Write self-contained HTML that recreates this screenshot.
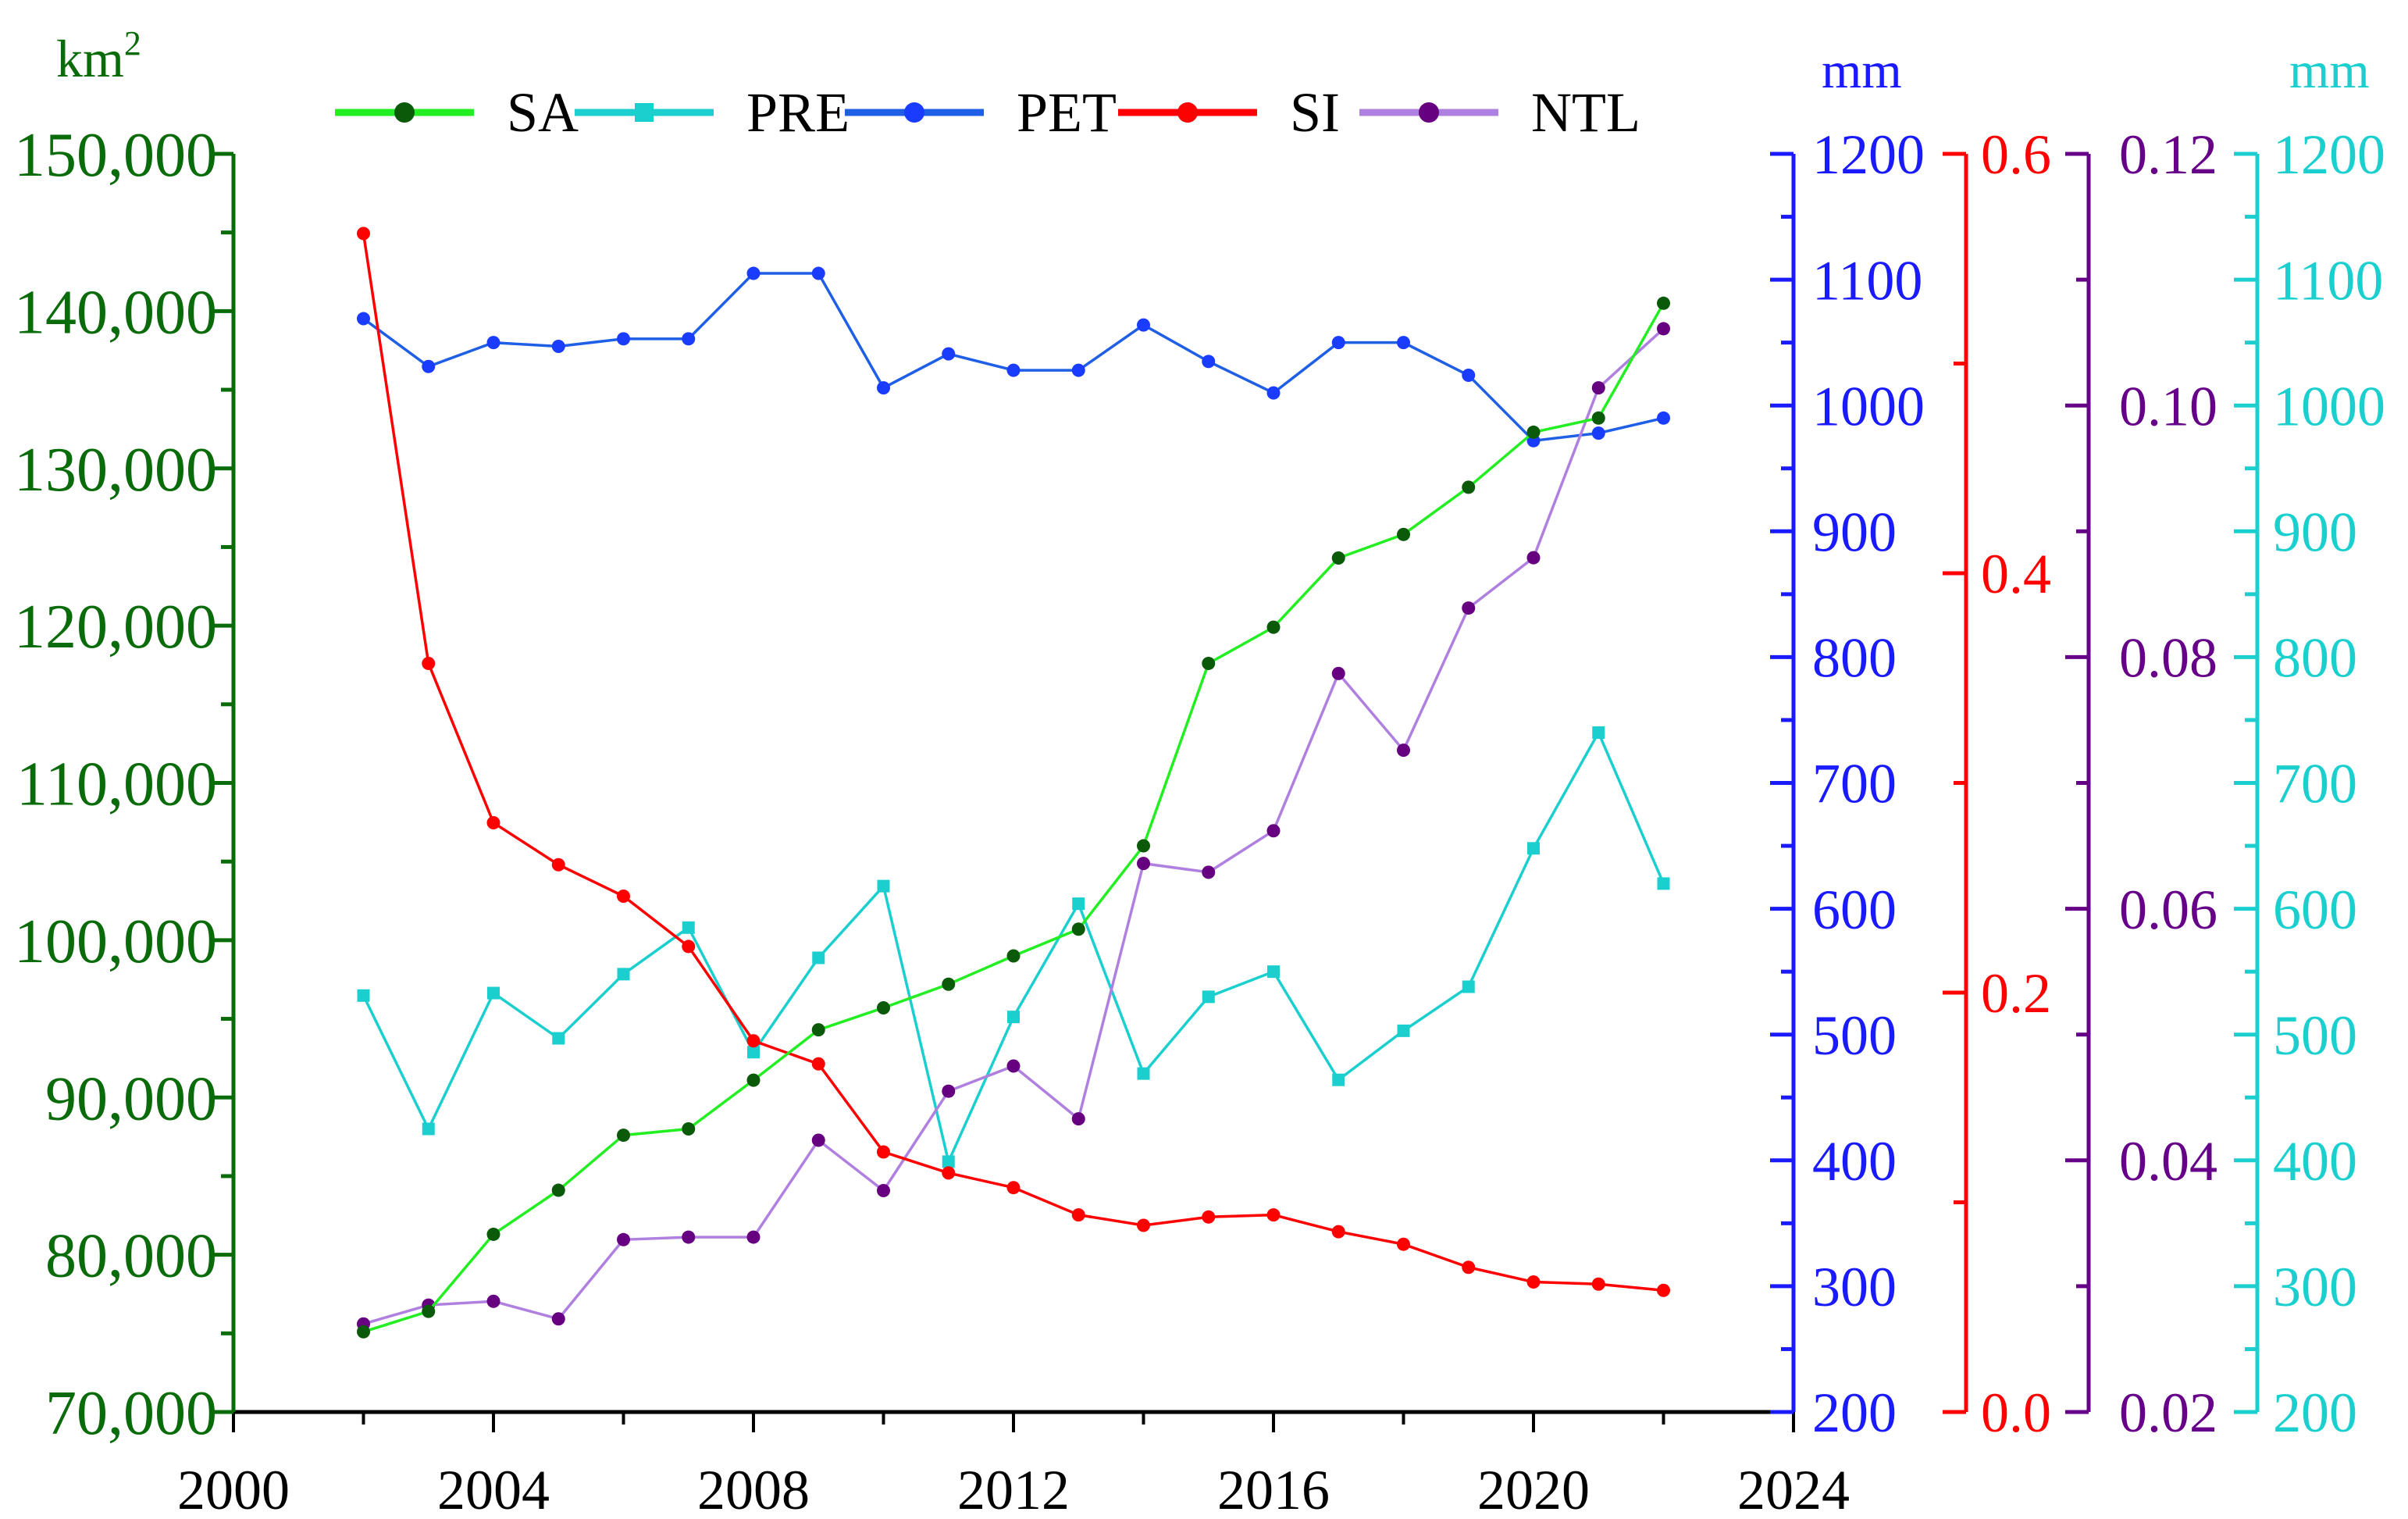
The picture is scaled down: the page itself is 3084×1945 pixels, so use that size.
<!DOCTYPE html>
<html><head><meta charset="utf-8"><style>
html,body{margin:0;padding:0;background:#fff;}
svg{display:block;font-family:"Liberation Serif",serif;}
</style></head><body>
<svg id="chart" width="3084" height="1945" viewBox="0 0 3084 1945" xmlns="http://www.w3.org/2000/svg">
<g id="axes"></g>
<g id="series"></g>
<g id="legend"></g>
</svg>
<script>
const years=[2002,2003,2004,2005,2006,2007,2008,2009,2010,2011,2012,2013,2014,2015,2016,2017,2018,2019,2020,2021,2022];
const saValues=[75100,76400,81300,84100,87600,88000,91100,94300,95700,97200,99000,100700,106000,117600,119900,124300,125800,128800,132300,133200,140500];
const preValues=[531,425,533,497,548,585,486,561,618,399,514,604,469,530,550,464,503,538,648,740,620];
const petValues=[1069,1031,1050,1047,1053,1053,1105,1105,1014,1041,1028,1028,1064,1035,1010,1050,1050,1024,972,978,990];
const siValues=[0.562,0.357,0.281,0.261,0.246,0.222,0.177,0.166,0.124,0.114,0.107,0.094,0.089,0.093,0.094,0.086,0.080,0.069,0.062,0.061,0.058];
const ntlValues=[0.0270,0.0285,0.0288,0.0274,0.0337,0.0339,0.0339,0.0416,0.0376,0.0455,0.0475,0.0433,0.0636,0.0629,0.0662,0.0787,0.0726,0.0839,0.0879,0.1014,0.1061];
const xTicks=[2000,2004,2008,2012,2016,2020,2024];
const saTicks=[70000,80000,90000,100000,110000,120000,130000,140000,150000];
const mmTicks=[200,300,400,500,600,700,800,900,1000,1100,1200];
const siTicks=[0.0,0.2,0.4,0.6];
const ntlTicks=[0.02,0.04,0.06,0.08,0.10,0.12];

const NS="http://www.w3.org/2000/svg";
const X0=299,X1=2297,YT=197,YB=1808;
const xS=v=>X0+(v-2000)/24*(X1-X0);
const lin=(a,b)=>v=>YB-(v-a)/(b-a)*(YB-YT);
const ySA=lin(70000,150000),yMM=lin(200,1200),ySI=lin(0,0.6),yNTL=lin(0.02,0.12);
function el(p,tag,at){const e=document.createElementNS(NS,tag);for(const k in at)e.setAttribute(k,at[k]);p.appendChild(e);return e;}
const axes=document.getElementById('axes'),series=document.getElementById('series'),legend=document.getElementById('legend');

let l=el(axes,'line',{x1:X0,y1:YB,x2:X1,y2:YB,stroke:'#000','stroke-width':5});


for(let y=2000;y<=2024;y+=2){const maj=(y%4===0);
 el(axes,'line',{x1:xS(y),y1:YB,x2:xS(y),y2:YB+(maj?26:16),stroke:'#000','stroke-width':4});}
xTicks.forEach(v=>{const t=el(axes,'text',{x:xS(v),y:1932,'text-anchor':'middle','font-size':72,fill:'#000'});t.textContent=v;
 
 });

function vAxis(name,x,color,scale,ticks,minorStep,labelX,fmt,fs){
 const g=el(axes,'g',{});
 
 
 el(g,'line',{x1:x,y1:YT,x2:x,y2:YB,stroke:color,'stroke-width':5});
 const lo=ticks[0],hi=ticks[ticks.length-1];
 const n=Math.round((hi-lo)/minorStep);
 for(let i=0;i<=n;i++){const v=lo+i*minorStep;const maj=ticks.some(t=>Math.abs(t-v)<minorStep/10);
  const len=maj?30:16;el(g,'line',{x1:x,y1:scale(v),x2:x-len,y2:scale(v),stroke:color,'stroke-width':5});}
 ticks.forEach(v=>{const t=el(g,'text',{x:labelX,y:scale(v)+fs*0.35,'text-anchor':name==='sa-axis'?'end':'start','font-size':fs,fill:color});t.textContent=fmt(v);
  
  });
}
vAxis('sa-axis',X0,'#0a6b0a',ySA,saTicks,5000,278,v=>v.toLocaleString('en-US'),80);
vAxis('pet-axis',2297,'#1a1aff',yMM,mmTicks,50,2321,v=>v,72);
vAxis('si-axis',2518,'#ff0000',ySI,siTicks,0.1,2537,v=>v.toFixed(1),72);
vAxis('ntl-axis',2675,'#660088',yNTL,ntlTicks,0.01,2714,v=>v.toFixed(2),72);
vAxis('pre-axis',2891,'#1ccfcf',yMM,mmTicks,50,2911,v=>v,72);

function txt(x,y,s,c,name,sz){const t=el(axes,'text',{x:x,y:y,'font-size':sz||64,fill:c});t.textContent=s;
 
 return t;}
const km=txt(72,98,'km','#0a6b0a','sa-unit-label',68);
const sup=el(axes,'tspan',{dy:-28,'font-size':44});sup.textContent='2';km.appendChild(sup);
txt(2333,112,'mm','#1a1aff','pet-unit-label',66);
txt(2932,112,'mm','#1ccfcf','pre-unit-label',66);

function drawSeries(name,vals,scale,lineC,markC,shape){
 const g=el(series,'g',{});
 
 
 el(g,'polyline',{points:years.map((y,i)=>xS(y)+','+scale(vals[i])).join(' '),fill:'none',stroke:lineC,'stroke-width':3.5});
 years.forEach((y,i)=>{let m;
  if(shape==='sq')m=el(g,'rect',{x:xS(y)-8,y:scale(vals[i])-8,width:16,height:16,fill:markC});
  else m=el(g,'circle',{cx:xS(y),cy:scale(vals[i]),r:8.5,fill:markC});
  
  });
}
drawSeries('pet-series',petValues,yMM,'#1f5fe6','#1a3cff','c');
drawSeries('pre-series',preValues,yMM,'#1ccfcf','#1ccfcf','sq');
drawSeries('ntl-series',ntlValues,yNTL,'#b080e0','#660080','c');
drawSeries('si-series',siValues,ySI,'#ff0000','#ff0000','c');
drawSeries('sa-series',saValues,ySA,'#22ee22','#0a5a0a','c');

const leg=[['SA','#22ee22','#0a5a0a','c',429],['PRE','#1ccfcf','#1ccfcf','sq',736],['PET','#1f5fe6','#1a3cff','c',1082],['SI','#ff0000','#ff0000','c',1432],['NTL','#b080e0','#660080','c',1741]];
leg.forEach(([n,lc,mc,sh,x])=>{
 const g=el(legend,'g',{});
 
 
 el(g,'line',{x1:x,y1:144,x2:x+178,y2:144,stroke:lc,'stroke-width':9});
 const cx=x+89;
 if(sh==='sq')el(g,'rect',{x:cx-12,y:132,width:24,height:24,fill:mc});else el(g,'circle',{cx:cx,cy:144,r:13,fill:mc});
 const t=el(g,'text',{x:x+220,y:168,'font-size':72,fill:'#000'});t.textContent=n;
});
</script>
</body></html>
